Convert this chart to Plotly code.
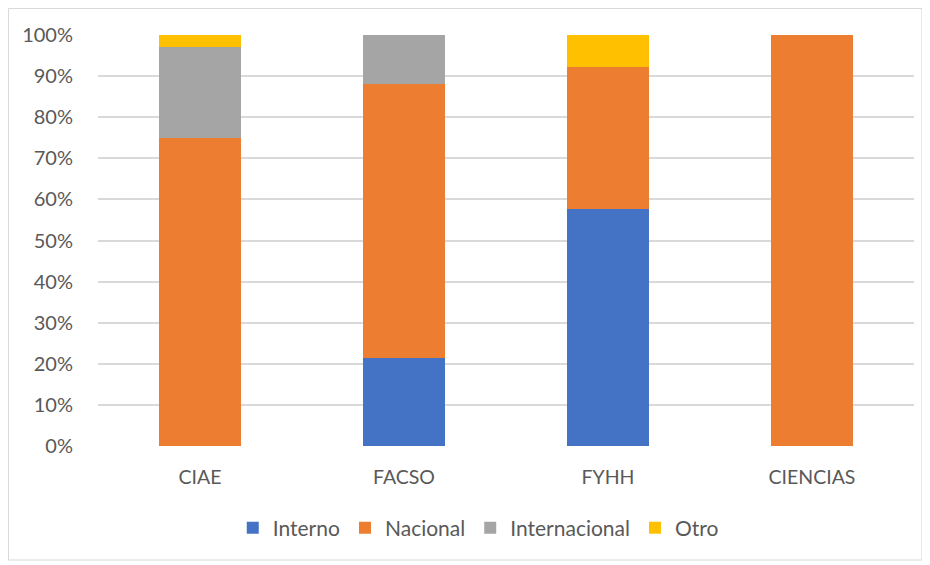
import plotly.graph_objects as go

categories = ["CIAE", "FACSO", "FYHH", "CIENCIAS"]
interno = [0, 21.4, 57.7, 0]
nacional = [75.0, 66.7, 34.6, 100.0]
internacional = [22.0, 11.9, 0, 0]
otro = [3.0, 0, 7.7, 0]
y_ticks = [0, 10, 20, 30, 40, 50, 60, 70, 80, 90, 100]
y_tick_labels = [f"{v}%" for v in y_ticks]

series = [
    ("Interno", interno, "#4472C4"),
    ("Nacional", nacional, "#ED7D31"),
    ("Internacional", internacional, "#A5A5A5"),
    ("Otro", otro, "#FFC000"),
]

fig = go.Figure()
for name, vals, color in series:
    fig.add_trace(go.Bar(
        name=name, x=categories, y=vals,
        marker=dict(color=color, line=dict(width=0)),
        width=0.4, hoverinfo="skip",
    ))

font_family = "Lato, 'Open Sans', sans-serif"
fig.update_layout(
    barmode="stack",
    width=922, height=557,
    margin=dict(l=90, r=16, t=27, b=119),
    paper_bgcolor="white", plot_bgcolor="white",
    font=dict(family=font_family, size=19, color="#595959"),
    showlegend=True,
    legend=dict(orientation="h", x=0.466, xanchor="center", y=-0.1995, yanchor="middle",
                font=dict(size=21, color="#595959"), traceorder="normal",
                itemwidth=30),
    xaxis=dict(showgrid=False, showline=False, zeroline=False,
               ticks="outside", ticklen=14, tickcolor="rgba(0,0,0,0)",
               tickfont=dict(size=19.5, color="#595959")),
    yaxis=dict(range=[0, 100], tickvals=y_ticks, ticktext=y_tick_labels,
               showgrid=True, gridcolor="#D9D9D9", gridwidth=1.5,
               zeroline=False, showline=False,
               ticks="outside", ticklen=20, tickcolor="rgba(0,0,0,0)",
               tickfont=dict(size=20, color="#595959")),
    shapes=[dict(type="rect", xref="paper", yref="paper",
                 x0=-0.1097, x1=1.0098, y0=-0.2774, y1=1.0645,
                 line=dict(color="#D9D9D9", width=1), layer="below")],
)

fig.write_html("out.html")
